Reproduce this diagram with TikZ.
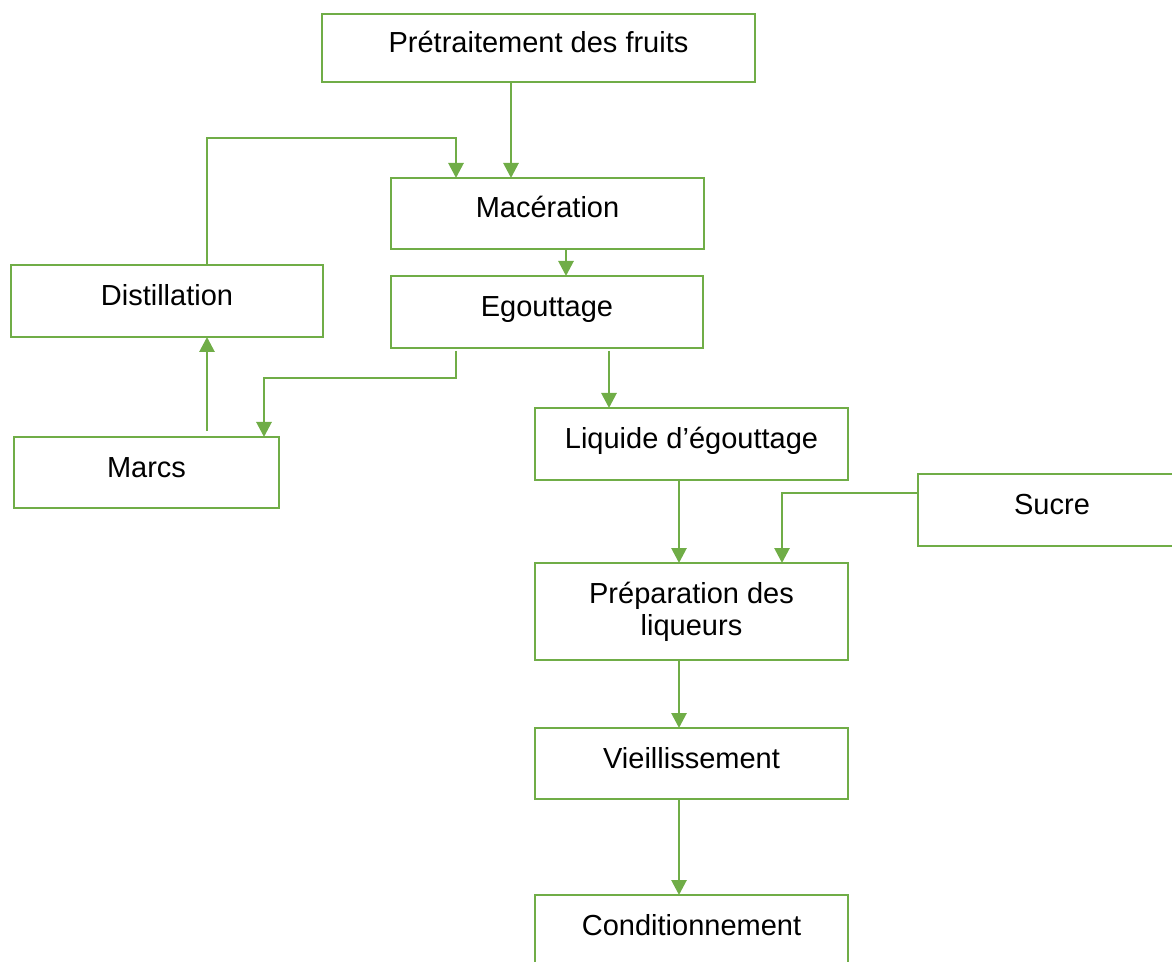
\documentclass[tikz,border=0pt]{standalone}
\usepackage{fontspec}
\setmainfont{Liberation Sans}
\usepackage{xcolor}
\usepackage{tikz}
\usetikzlibrary{arrows.meta,positioning,calc}
\definecolor{vert}{HTML}{70AD47}

\begin{document}
\begin{tikzpicture}[x=0.5pt, y=-0.5pt,
                    boite/.style={draw=vert, line width=1.4pt, minimum width=156.5pt, minimum height=36pt,
                                  inner sep=0pt, outer sep=0pt, font=\fontsize{14.5}{16}\selectfont},
                    etape/.style={boite, text height=10.5pt, text depth=6pt},
                    fleche/.style={draw=vert, line width=1.4pt, -{Triangle[width=7.5pt,length=7.5pt]}}]
                                \useasboundingbox (0,0) rectangle (1172,962);
                                \clip (0,0) rectangle (1172,962);

                                \node[etape, minimum width=216.5pt, minimum height=34pt] (pre) at (538.5,48) {Prétraitement des fruits};
                                \node[etape, minimum height=35.5pt] (mac) at (547.5,213.5) {Macération};
                                \node[etape, minimum width=156pt] (ego) at (547,312) {Egouttage};
                                \node[etape, minimum width=156pt] (dis) at (167,301) {Distillation};
                                \node[etape, minimum width=132.5pt, minimum height=35.5pt] (mar) at (146.5,472.5) {Marcs};
                                \node[etape] (liq) at (691.5,444) {Liquide d’égouttage};
                                \node[etape, minimum width=134pt] (suc) at (1052,510) {Sucre};
                                \node[boite, minimum height=48.5pt, align=center] (prep) at (691.5,611.5) {Préparation des\\liqueurs};
                                \node[etape, minimum height=35.5pt] (vie) at (691.5,763.5) {Vieillissement};
                                \node[etape, minimum height=35.5pt] (cond) at (691.5,930.5) {Conditionnement};

                                \draw[fleche] ([xshift=-13.75pt]pre.south) -- ([xshift=-13.75pt]pre.south |- mac.north);
                                \draw[fleche] ([xshift=20pt]dis.north) -- ++(0,-127) -| ([xshift=-45.75pt]mac.north);
                                \draw[fleche] ([xshift=9.25pt]mac.south) -- ([xshift=9.25pt]mac.south |- ego.north);
                                \draw[fleche] ([xshift=-45.5pt,yshift=-1.5pt]ego.south) -- ++(0,27) -| ([xshift=58.75pt]mar.north);
                                \draw[fleche] ([xshift=30.25pt,yshift=3pt]mar.north) -- ([xshift=30.25pt]mar.north |- dis.south);
                                \draw[fleche] ([xshift=31pt,yshift=-1.5pt]ego.south) -- ([xshift=31pt]ego.south |- liq.north);
                                \draw[fleche] ([xshift=-6.25pt]liq.south) -- ([xshift=-6.25pt]liq.south |- prep.north);
                                \draw[fleche] ([yshift=8.5pt]suc.west) -| ([xshift=45.25pt]prep.north);
                                \draw[fleche] ([xshift=-6.25pt]prep.south) -- ([xshift=-6.25pt]prep.south |- vie.north);
                                \draw[fleche] ([xshift=-6.25pt]vie.south) -- ([xshift=-6.25pt]vie.south |- cond.north);
                            \end{tikzpicture}
\end{document}
